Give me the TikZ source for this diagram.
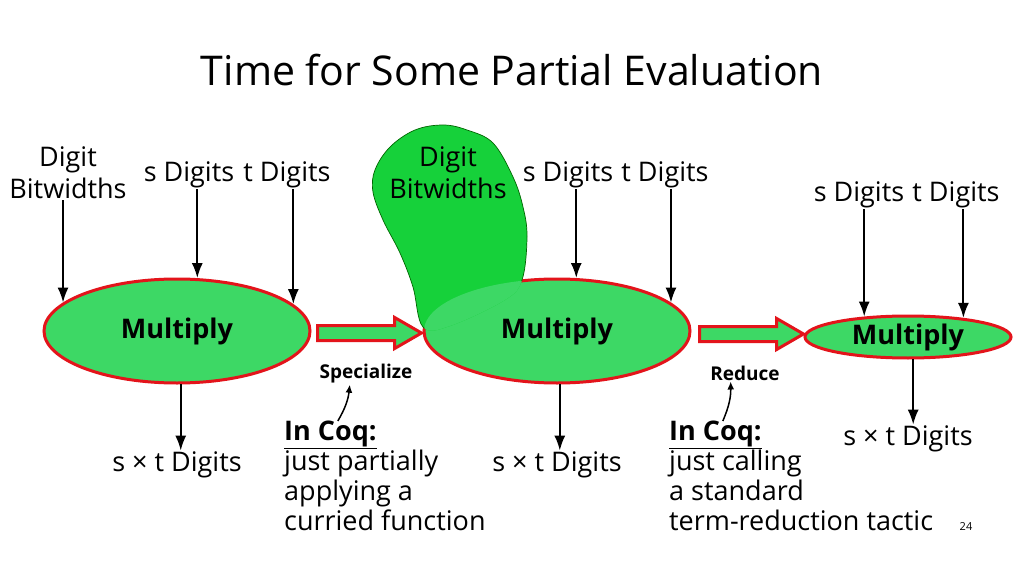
\documentclass[tikz,border=0pt]{standalone}
\usepackage{fontspec}
\setmainfont{Open Sans}
\usetikzlibrary{shapes,arrows.meta,calc,positioning}
\definecolor{multgreen}{HTML}{3DD865}
\definecolor{blobgreen}{HTML}{16D13A}
\definecolor{edgered}{HTML}{E3141B}

\begin{document}
\begin{tikzpicture}[x=1pt,y=-1pt,
        every node/.style={inner sep=1pt},
        lbl/.style={font=\fontsize{27}{32}\selectfont,align=center},
        coq/.style={font=\fontsize{27}{30}\selectfont,align=left,anchor=north west,inner sep=0pt},
        small/.style={font=\fontsize{19}{22}\selectfont\bfseries},
        op/.style={ellipse,draw=edgered,line width=3pt,fill=multgreen,inner sep=0pt,
            font=\fontsize{27}{32}\selectfont\bfseries},
        bigarrow/.style={single arrow,draw=edgered,fill=multgreen,line width=3pt,inner sep=0pt,
            text height=12pt,text depth=0pt,minimum width=0pt,minimum height=104pt,
            single arrow head extend=8pt,single arrow tip angle=60},
        feed/.style={-{Latex[length=15pt,width=11pt]},line width=2pt},
        note/.style={-{Latex[length=8pt,width=7pt]},line width=1.5pt},
        blob/.style={smooth cycle,tension=0.6}]

        \fill[white] (0,0) rectangle (1024,569);
        \useasboundingbox (0,0) rectangle (1024,569);

        \node (title) [font=\fontsize{41}{48}\selectfont] at (512,70) {Time for Some Partial Evaluation};

        % unspecialized
        \node (m1) [op,minimum width=266pt,minimum height=104pt] at (177,331) {Multiply};
        \node (bw1) [lbl] at (68,173) {Digit\\Bitwidths};
        \node (sd1) [lbl] at (189,175) {s Digits};
        \node (td1) [lbl] at (287,175) {t Digits};
        \node (out1) [lbl] at (177,465) {s × t Digits};
        \draw[feed] (bw1.south -| m1.166) -- (m1.166);
        \draw[feed] (sd1.south -| m1.69) -- (m1.69);
        \draw[feed] (td1.south -| m1.13) -- (m1.13);
        \draw[feed] (m1.-86) -- (m1.-86 |- out1.north);

        % specialized
        \node (m2) [op,minimum width=266pt,minimum height=104pt] at (557,331) {Multiply};
        \def\blobpath{plot[blob] coordinates {
            (443,125) (467,130) (493,143) (513,177) (523,207) (527,237) (522,280) (505,300)
            (450,326) (423,327) (413,287) (400,253) (383,220) (373,192) (375,170) (390,147) (415,130)}}
        \fill[blobgreen] \blobpath;
        \begin{scope}
            \clip \blobpath;
            \fill[multgreen] (m2.center) ellipse [x radius=133,y radius=52];
        \end{scope}
        \begin{scope}[even odd rule]
            \clip (0,0) rectangle (1024,569) (m2.center) ellipse [x radius=133,y radius=52];
            \draw[black!60!green,line width=0.7pt] \blobpath;
        \end{scope}
        \node (bw2) [lbl] at (448,173) {Digit\\Bitwidths};
        \node (sd2) [lbl] at (568,175) {s Digits};
        \node (td2) [lbl] at (665,175) {t Digits};
        \node (out2) [lbl] at (557,465) {s × t Digits};
        \draw[feed] (sd2.south -| m2.70) -- (m2.70);
        \draw[feed] (td2.south -| m2.14) -- (m2.14);
        \draw[feed] (m2.-87) -- (m2.-87 |- out2.north);

        % reduced
        \node (m3) [op,minimum width=206pt,minimum height=42pt] at (908,337) {Multiply};
        \node (sd3) [lbl] at (859,195) {s Digits};
        \node (td3) [lbl] at (956,195) {t Digits};
        \node (out3) [lbl] at (908,439) {s × t Digits};
        \draw[feed] (sd3.south -| m3.155) -- (m3.155);
        \draw[feed] (td3.south -| m3.19) -- (m3.19);
        \draw[feed] (m3.-77) -- (m3.-77 |- out3.north);

        % steps between
        \node (ar1) [bigarrow] at (363,333) {};
        \node (ar2) [bigarrow] at (745,334) {};
        \node (spec1) [small] at (366,374) {Specialize};
        \node (red1) [small] at (745,373) {Reduce};

        \node (coqh1) [coq] at (284,421) {\textbf{\underline{In Coq:}}};
        \node (coqb1) [coq] at (coqh1.south west) {just partially\\applying a\\curried function};
        \node (coqh2) [coq] at (669,421) {\textbf{\underline{In Coq:}}};
        \node (coqb2) [coq] at (coqh2.south west) {just calling\\a standard\\term-reduction tactic};
        \draw[note] ($(coqh1.north west)!0.58!(coqh1.north east)$) to[bend right=12] ($(spec1.south west)!0.33!(spec1.south east)$);
        \draw[note] ($(coqh2.north west)!0.58!(coqh2.north east)$) to[bend right=12] ($(red1.south west)!0.3!(red1.south east)$);

        \node (page) [font=\fontsize{11}{13}\selectfont] at (966,527) {24};
\end{tikzpicture}
\end{document}
